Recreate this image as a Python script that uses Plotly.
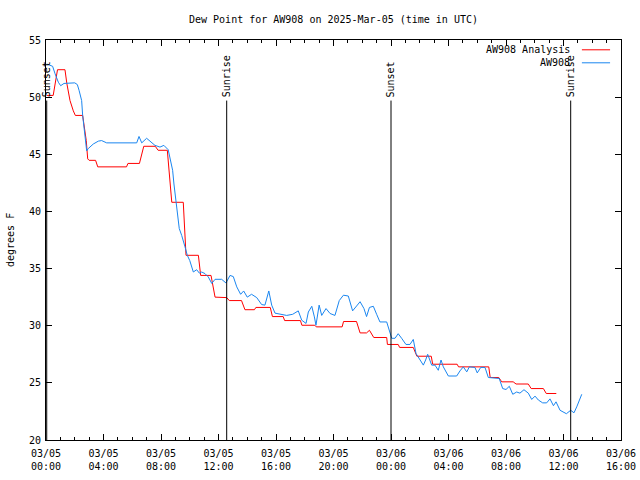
import plotly.graph_objects as go

# ---- data (hours since 2025-03-05 00:00 UTC) ----
analysis_hours = [0.05, 0.5, 0.8, 1.32, 1.45, 1.67, 1.9, 2.04, 2.55, 2.8, 2.9, 3.0, 3.45, 3.6, 5.6, 5.7, 6.5, 6.8,
                  7.6, 7.8, 8.44, 8.75, 9.55, 9.74, 10.6, 10.76, 11.48, 11.76, 12.57, 12.75, 13.6, 13.84, 14.5,
                  14.6, 15.6, 15.75, 16.5, 16.6, 17.7, 17.8, 18.7, 18.8, 20.6, 20.7, 21.6, 21.85, 22.3, 22.5,
                  22.8, 23.7, 23.75, 24.5, 24.6, 25.55, 25.8, 26.8, 26.9, 28.6, 28.7, 30.8, 30.9, 31.5, 31.7,
                  32.5, 32.7, 33.55, 33.75, 34.6, 34.8, 35.5]
analysis_dew = [50.15, 50.15, 52.4, 52.4, 51.2, 49.7, 48.8, 48.4, 48.4, 46.2, 44.6, 44.47, 44.47, 43.9, 43.9, 44.2,
                44.2, 45.7, 45.7, 45.35, 45.35, 40.8, 40.8, 36.16, 36.16, 34.4, 34.4, 32.5, 32.46, 32.2, 32.2,
                31.4, 31.4, 31.6, 31.6, 30.8, 30.8, 30.45, 30.45, 30.04, 30.04, 29.9, 29.9, 30.37, 30.37, 29.37,
                29.37, 29.6, 28.97, 28.97, 28.36, 28.36, 28.1, 28.1, 27.33, 27.33, 26.63, 26.63, 26.4, 26.4,
                25.47, 25.47, 25.09, 25.09, 24.9, 24.9, 24.5, 24.5, 24.07, 24.07]

obs_hours = [0.05, 0.46, 0.63, 0.86, 1.02, 1.25, 2.0, 2.18, 2.3, 2.48, 2.55, 2.66, 2.78, 2.83, 2.94, 3.29, 3.64,
             3.87, 4.22, 6.31, 6.47, 6.66, 7.0, 7.58, 7.93, 8.2, 8.5, 8.67, 8.81, 8.9, 9.04, 9.14, 9.27, 9.44,
             9.55, 9.67, 9.83, 10.0, 10.25, 10.48, 10.67, 10.83, 11.06, 11.29, 11.53, 11.76, 12.22, 12.52, 12.8,
             13.03, 13.27, 13.54, 13.75, 14.0, 14.3, 14.66, 15.0, 15.23, 15.5, 15.7, 15.93, 16.28, 16.74, 17.16,
             17.55, 17.79, 18.09, 18.25, 18.49, 18.67, 18.78, 19.0, 19.18, 19.48, 19.76, 20.1, 20.4, 20.69,
             21.03, 21.33, 21.85, 22.12, 22.3, 22.5, 22.77, 23.0, 23.23, 23.7, 23.9, 24.05, 24.28, 24.5, 24.74,
             25.04, 25.32, 25.55, 25.74, 25.9, 26.07, 26.25, 26.41, 26.55, 26.7, 26.83, 27.06, 27.29, 27.48,
             27.64, 27.99, 28.57, 28.8, 29.03, 29.27, 29.45, 29.84, 30.0, 30.24, 30.54, 30.77, 31.53, 31.77,
             32.0, 32.23, 32.47, 32.74, 32.97, 33.25, 33.55, 33.79, 34.02, 34.25, 34.55, 34.83, 35.06, 35.3,
             35.48, 35.76, 36.2, 36.5, 36.73, 36.92, 37.27]
obs_dew = [52.9, 52.7, 52.05, 51.3, 51.0, 51.2, 51.25, 51.1, 50.6, 49.7, 48.4, 47.1, 46.07, 45.3, 45.5, 45.9,
           46.15, 46.2, 46.0, 46.0, 46.56, 46.0, 46.4, 45.78, 45.63, 45.78, 45.4, 44.47, 43.6, 42.4, 40.8, 39.8,
           38.5, 37.9, 37.33, 36.9, 36.16, 35.7, 34.7, 34.9, 34.6, 34.7, 34.56, 34.27, 33.7, 34.06, 34.06, 33.74,
           34.4, 34.3, 33.4, 32.75, 33.04, 32.5, 32.75, 32.46, 31.85, 31.8, 33.04, 31.8, 31.1, 31.0, 30.9, 31.0,
           31.3, 30.48, 30.2, 31.2, 31.7, 30.77, 30.04, 31.8, 30.9, 31.5, 31.07, 30.9, 32.2, 32.67, 32.6, 31.3,
           32.1, 31.5, 30.8, 31.6, 31.7, 31.0, 30.33, 30.33, 29.4, 28.9, 28.9, 29.3, 28.9, 28.36, 28.36, 28.8,
           27.57, 27.27, 27.0, 26.55, 27.0, 27.5, 27.0, 26.55, 26.55, 26.1, 27.0, 26.4, 25.6, 25.6, 26.05, 26.4,
           25.96, 26.4, 26.35, 25.87, 26.35, 26.35, 25.47, 25.38, 24.5, 24.42, 24.7, 24.0, 24.2, 24.1, 24.4,
           24.1, 23.55, 23.84, 23.5, 23.25, 23.25, 23.6, 23.0, 23.34, 22.6, 22.3, 22.6, 22.38, 22.9, 24.0]

sun_events = ["Sunset", "Sunrise", "Sunset", "Sunrise"]
sun_hours = [0.05, 12.57, 24.0, 36.5]
sun_line_top = 49.7

tick_hours = [0, 4, 8, 12, 16, 20, 24, 28, 32, 36, 40]
tick_labels = ["03/05<br>00:00", "03/05<br>04:00", "03/05<br>08:00", "03/05<br>12:00", "03/05<br>16:00",
               "03/05<br>20:00", "03/06<br>00:00", "03/06<br>04:00", "03/06<br>08:00", "03/06<br>12:00",
               "03/06<br>16:00"]

series_names = ["AW908 Analysis", "AW908"]
series_colors = ["#ff0000", "#1a86f0"]

FONT = "DejaVu Sans Mono"

fig = go.Figure()
fig.add_trace(go.Scatter(x=analysis_hours, y=analysis_dew, mode="lines", name=series_names[0],
                         line=dict(color=series_colors[0], width=1), showlegend=False))
fig.add_trace(go.Scatter(x=obs_hours, y=obs_dew, mode="lines", name=series_names[1],
                         line=dict(color=series_colors[1], width=1), showlegend=False))

# sunrise / sunset lines
for name, h in zip(sun_events, sun_hours):
    fig.add_shape(type="line", xref="x", yref="y", x0=h, x1=h, y0=20, y1=sun_line_top,
                  line=dict(color="black", width=1))
    fig.add_annotation(x=h, y=sun_line_top, xref="x", yref="y", text=name, textangle=-90,
                       showarrow=False, xanchor="center", yanchor="bottom", yshift=1,
                       font=dict(family=FONT, size=10, color="black"))

# manual legend (gnuplot style: text right, sample on the right)
legend_y = [0.9755, 0.943]
for name, col, ly in zip(series_names, series_colors, legend_y):
    fig.add_annotation(x=0.915, y=ly, xref="paper", yref="paper", text=name, showarrow=False,
                       xanchor="right", yanchor="middle", font=dict(family=FONT, size=10, color="black"))
    fig.add_shape(type="line", xref="paper", yref="paper", x0=0.932, x1=0.981, y0=ly, y1=ly,
                  line=dict(color=col, width=1))

# y-axis title
fig.add_annotation(x=-0.0626, y=0.5, xref="paper", yref="paper", text="degrees F", textangle=-90,
                   showarrow=False, xanchor="center", yanchor="middle",
                   font=dict(family=FONT, size=10, color="black"))

fig.update_layout(
    width=640, height=480,
    margin=dict(l=46, r=19, t=40, b=40, autoexpand=False),
    paper_bgcolor="white", plot_bgcolor="white",
    font=dict(family=FONT, size=10, color="black"),
    title=dict(text="Dew Point for AW908 on 2025-Mar-05 (time in UTC)", x=0.5, xref="paper",
               xanchor="center", y=1 - 19 / 480, yref="container", yanchor="middle",
               font=dict(family=FONT, size=10, color="black")),
)
fig.update_xaxes(range=[0, 40], tickvals=tick_hours, ticktext=tick_labels, showgrid=False, zeroline=False,
                 showline=True, linecolor="black", linewidth=1, mirror="ticks", ticks="inside",
                 ticklen=6, tickcolor="black", automargin=False, ticklabelstandoff=4,
                 minor=dict(dtick=1, ticks="inside", ticklen=3, tickcolor="black", showgrid=False))
fig.update_yaxes(range=[20, 55], dtick=5, tick0=20, showgrid=False, zeroline=False,
                 showline=True, linecolor="black", linewidth=1, mirror="ticks", ticks="inside",
                 ticklen=6, tickcolor="black", automargin=False, ticklabelstandoff=2)

fig.write_html("out.html")
